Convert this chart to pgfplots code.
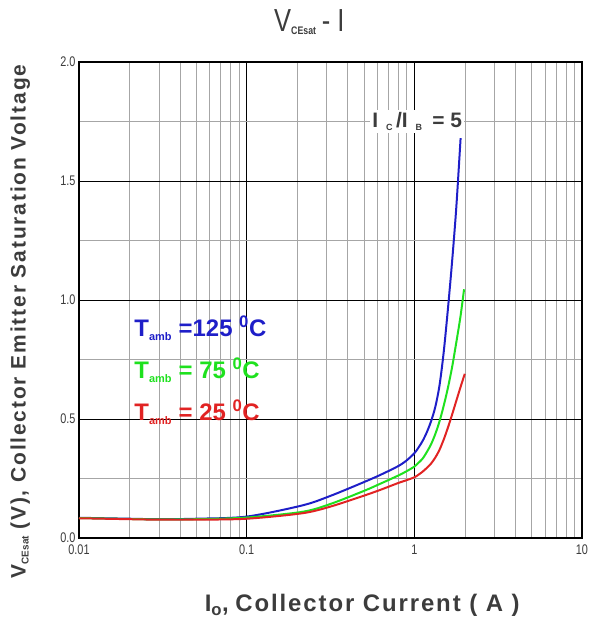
\documentclass[border=0pt]{standalone}
\usepackage{fontspec}
\setmainfont{Liberation Sans}
\usepackage{pgfplots}
\pgfplotsset{compat=1.18}
\definecolor{cblue}{RGB}{30,30,200}
\definecolor{cgreen}{RGB}{30,225,30}
\definecolor{cred}{RGB}{225,35,35}
\definecolor{tgray}{RGB}{60,60,60}

\begin{document}
\begin{tikzpicture}
\begin{semilogxaxis}[
    scale only axis, width=503bp, height=476bp,
    xmin=0.01, xmax=10, ymin=0, ymax=2,
    xtick={0.01,0.1,1,10}, xticklabels={0.01,0.1,1,10},
    ytick={0,0.5,1,1.5,2}, minor ytick={0.25,0.75,1.25,1.75},
    /pgf/number format/assume math mode=true,
    yticklabel style={/pgf/number format/.cd, fixed, fixed zerofill, precision=1},
    ticklabel style={font=\fontsize{14}{14}\selectfont\addfontfeature{FakeStretch=0.78}, text=tgray},
    xticklabel style={yshift=-3bp},
    grid=both,
    major grid style={black, line width=0.9pt},
    minor grid style={gray!70, line width=0.5pt},
    axis line style={black, line width=1.2pt},
    major tick length=0pt, minor tick length=0pt,
    title={V\textsubscript{\fontsize{11}{11}\selectfont\bfseries CEsat}\,- I},
    title style={at={(axis description cs:0.458,1.052)}, anchor=base, font=\fontsize{32}{32}\selectfont\addfontfeature{FakeStretch=0.8}, text=tgray},
    xlabel={I\textsubscript{o}, {\addfontfeature{LetterSpace=8}Collector Current ( A )}},
    xlabel style={at={(axis description cs:0.563,-0.155)}, anchor=base, font=\fontsize{24}{24}\selectfont\bfseries, text=tgray},
    ylabel={V\textsubscript{\fontsize{10}{10}\selectfont CEsat} {\addfontfeature{LetterSpace=9}(V), Collector Emitter Saturation Voltage}},
    ylabel style={at={(axis description cs:-0.117,0.455)}, anchor=center, font=\fontsize{21}{21}\selectfont\bfseries, text=tgray},
]
% T = 125 C
\addplot[cblue, line width=2pt, smooth, tension=0.5] coordinates {
    (0.01,0.085) (0.02,0.081) (0.03,0.079) (0.05,0.081) (0.1,0.09) (0.215,0.137)
    (0.316,0.177) (0.501,0.235) (0.631,0.266) (0.794,0.3005) (0.891,0.3235)
    (1,0.356) (1.059,0.38) (1.122,0.4085) (1.189,0.4454) (1.259,0.491)
    (1.334,0.551) (1.413,0.641) (1.496,0.779) (1.585,0.96) (1.679,1.16)
    (1.778,1.385) (1.888,1.68)};
% T = 75 C
\addplot[cgreen, line width=2pt, smooth, tension=0.5] coordinates {
    (0.01,0.084) (0.02,0.08) (0.03,0.078) (0.05,0.079) (0.1,0.086) (0.215,0.11)
    (0.316,0.143) (0.501,0.198) (0.631,0.229) (0.794,0.261) (0.891,0.279)
    (1,0.30) (1.059,0.316) (1.122,0.334) (1.189,0.362) (1.259,0.394)
    (1.334,0.437) (1.413,0.49) (1.5,0.558) (1.585,0.63) (1.68,0.718)
    (1.778,0.82) (1.884,0.93) (1.98,1.045)};
% T = 25 C
\addplot[cred, line width=2pt, smooth, tension=0.5] coordinates {
    (0.01,0.083) (0.02,0.079) (0.03,0.077) (0.05,0.077) (0.1,0.081) (0.215,0.104)
    (0.316,0.132) (0.501,0.178) (0.631,0.203) (0.794,0.23) (0.891,0.242)
    (1,0.255) (1.059,0.266) (1.122,0.279) (1.189,0.295) (1.259,0.313)
    (1.334,0.338) (1.413,0.3705) (1.496,0.413) (1.585,0.463) (1.679,0.518)
    (1.778,0.5755) (1.884,0.633) (2,0.69)};
\node[cblue, anchor=west, font=\fontsize{24}{24}\selectfont\bfseries] at (axis cs:0.0204,0.88)
    {T\textsubscript{\fontsize{11}{11}\selectfont amb} =125 \textsuperscript{0}C};
\node[cgreen, anchor=west, font=\fontsize{24}{24}\selectfont\bfseries] at (axis cs:0.0204,0.705)
    {T\textsubscript{\fontsize{11}{11}\selectfont amb} = 75 \textsuperscript{0}C};
\node[cred, anchor=west, font=\fontsize{24}{24}\selectfont\bfseries] at (axis cs:0.0204,0.53)
    {T\textsubscript{\fontsize{11}{11}\selectfont amb} = 25 \textsuperscript{0}C};
\node[fill=white, inner sep=2bp, text=tgray, font=\fontsize{21}{21}\selectfont\bfseries] at (axis cs:1.04,1.75)
    {I\hspace{8bp}\textsubscript{\fontsize{9}{9}\selectfont C}\hspace{3bp}/I\hspace{8bp}\textsubscript{\fontsize{9}{9}\selectfont B}\hspace{4bp} = 5};
\end{semilogxaxis}
\pgfresetboundingbox
\path ([xshift=-79bp,yshift=-88bp]current axis.south west) rectangle ([xshift=19bp,yshift=62bp]current axis.north east);
\end{tikzpicture}
\end{document}
